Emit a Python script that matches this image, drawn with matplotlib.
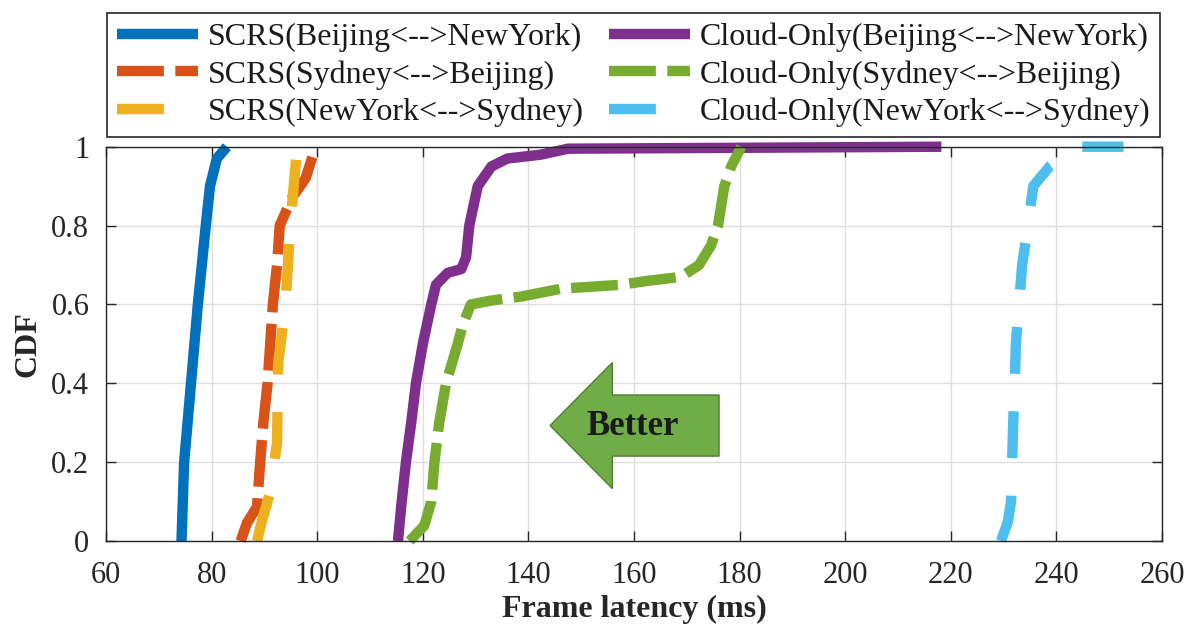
import matplotlib

matplotlib.use("Agg")
import matplotlib.pyplot as plt
from matplotlib.patches import FancyArrow

plt.rcParams["font.family"] = ["Liberation Serif", "DejaVu Serif"]

# CDF curves: (frame latency ms, cdf)
scrs_bj_ny_x = [74.3, 74.8, 76.1, 77.4, 78.9, 79.7, 81.0, 82.9]
scrs_bj_ny_y = [0, 0.2, 0.4, 0.6, 0.8, 0.9, 0.97, 1.0]

scrs_sy_bj_x = [85.5, 86.7, 88.6, 89.2, 89.8, 90.6, 91.1, 91.6, 92.4, 92.9, 95.2, 97.8, 99.7]
scrs_sy_bj_y = [0, 0.046, 0.087, 0.2, 0.3, 0.4, 0.5, 0.6, 0.7, 0.8, 0.87, 0.92, 1.0]

scrs_ny_sy_x = [88.6, 89.5, 91.0, 92.4, 92.6, 94.0, 94.9, 96.2]
scrs_ny_sy_y = [0, 0.05, 0.12, 0.25, 0.45, 0.6, 0.8, 1.0]

cloud_bj_ny_x = [115.3, 115.9, 116.8, 117.8, 118.7, 120.0, 121.6, 122.5, 124.7, 127.3,
                 128.2, 128.8, 130.4, 133.0, 136.0, 142.4, 147.5, 218.2]
cloud_bj_ny_y = [0, 0.087, 0.2, 0.3, 0.4, 0.5, 0.6, 0.65, 0.68, 0.69,
                 0.72, 0.8, 0.9, 0.95, 0.97, 0.98, 0.995, 1.0]

cloud_sy_bj_x = [117.5, 120.3, 121.6, 122.2, 123.1, 124.4, 126.6, 127.6, 129.1, 133.0, 138.6,
                 146.2, 157.6, 162.6, 168.9, 172.3, 174.6, 175.9, 177.1, 178.4, 180.3]
cloud_sy_bj_y = [0, 0.04, 0.1, 0.2, 0.3, 0.4, 0.5, 0.55, 0.6, 0.61, 0.62,
                 0.64, 0.65, 0.66, 0.67, 0.7, 0.75, 0.8, 0.9, 0.95, 1.0]

cloud_ny_sy_x = [229.5, 230.8, 231.4, 231.6, 231.8, 232.1, 232.3, 232.9, 233.5, 234.6,
                 235.6, 238.7, 241.9, 244.1, 252.7]
cloud_ny_sy_y = [0, 0.05, 0.1, 0.2, 0.3, 0.4, 0.5, 0.6, 0.7, 0.8,
                 0.9, 0.95, 0.98, 1.0, 1.0]

labels = [
    "SCRS(Beijing<-->NewYork)",
    "SCRS(Sydney<-->Beijing)",
    "SCRS(NewYork<-->Sydney)",
    "Cloud-Only(Beijing<-->NewYork)",
    "Cloud-Only(Sydney<-->Beijing)",
    "Cloud-Only(NewYork<-->Sydney)",
]
xticks = [60, 80, 100, 120, 140, 160, 180, 200, 220, 240, 260]
yticks = [0, 0.2, 0.4, 0.6, 0.8, 1.0]
ytick_labels = ["0", "0.2", "0.4", "0.6", "0.8", "1"]

series = [
    (scrs_bj_ny_x, scrs_bj_ny_y, "#0072BD", "solid"),
    (scrs_sy_bj_x, scrs_sy_bj_y, "#D95319", "dash"),
    (scrs_ny_sy_x, scrs_ny_sy_y, "#EDB120", "dashdot"),
    (cloud_bj_ny_x, cloud_bj_ny_y, "#7E2F8E", "solid"),
    (cloud_sy_bj_x, cloud_sy_bj_y, "#77AC30", "dash"),
    (cloud_ny_sy_x, cloud_ny_sy_y, "#4DBEEE", "dashdot"),
]

fig = plt.figure(figsize=(11.84, 6.27), dpi=100)
ax = fig.add_axes([0.0895, 0.137, 0.892, 0.629])

handles = []
for (xs, ys, color, style), label in zip(series, labels):
    (line,) = ax.plot(xs, ys, color=color, lw=7.5, label=label, clip_on=False,
                      solid_capstyle="butt", dash_capstyle="butt")
    if style == "dash":
        line.set_dashes((4.5, 1.1))
    elif style == "dashdot":
        line.set_dashes((4.5, 3.6))
    handles.append(line)

# "Better" arrow
ax.add_patch(FancyArrow(176.1, 0.293, -32.0, 0, width=0.155, head_width=0.32,
                        head_length=11.8, length_includes_head=True,
                        facecolor="#70AD47", edgecolor="#507E32", lw=1, zorder=5))
ax.text(159.8, 0.29, "Better", fontsize=25, fontweight="bold", color="#1a1a1a",
        ha="center", va="center", zorder=6)

ax.set_xlim(60, 260)
ax.set_ylim(0, 1)
ax.set_xticks(xticks)
ax.set_yticks(yticks)
ax.set_yticklabels(ytick_labels)
ax.tick_params(direction="in", top=True, right=True, labelsize=22, colors="#262626",
               length=7, width=1)
ax.tick_params(axis="x", pad=14)
ax.tick_params(axis="y", pad=12)
ax.grid(True, color="#dedede", lw=1)
ax.set_axisbelow(True)
for sp in ax.spines.values():
    sp.set_color("#262626")
    sp.set_linewidth(1)
ax.set_xlabel("Frame latency (ms)", fontsize=23, fontweight="bold", color="#262626", labelpad=4)
ax.set_ylabel("CDF", fontsize=23, fontweight="bold", color="#262626", labelpad=6)

leg = ax.legend(handles=handles, labels=labels, loc="lower left",
                bbox_to_anchor=(0.001, 1.0256, 0.997, 0.3194),
                mode="expand", ncol=2, fontsize=23, handlelength=2.55,
                handletextpad=0.3, labelspacing=0.25, borderaxespad=0,
                borderpad=0.3, fancybox=False, framealpha=1, edgecolor="#262626")
leg.get_frame().set_linewidth(1.2)
for t in leg.get_texts():
    t.set_color("#1a1a1a")

fig.savefig("out.png", dpi=100)
